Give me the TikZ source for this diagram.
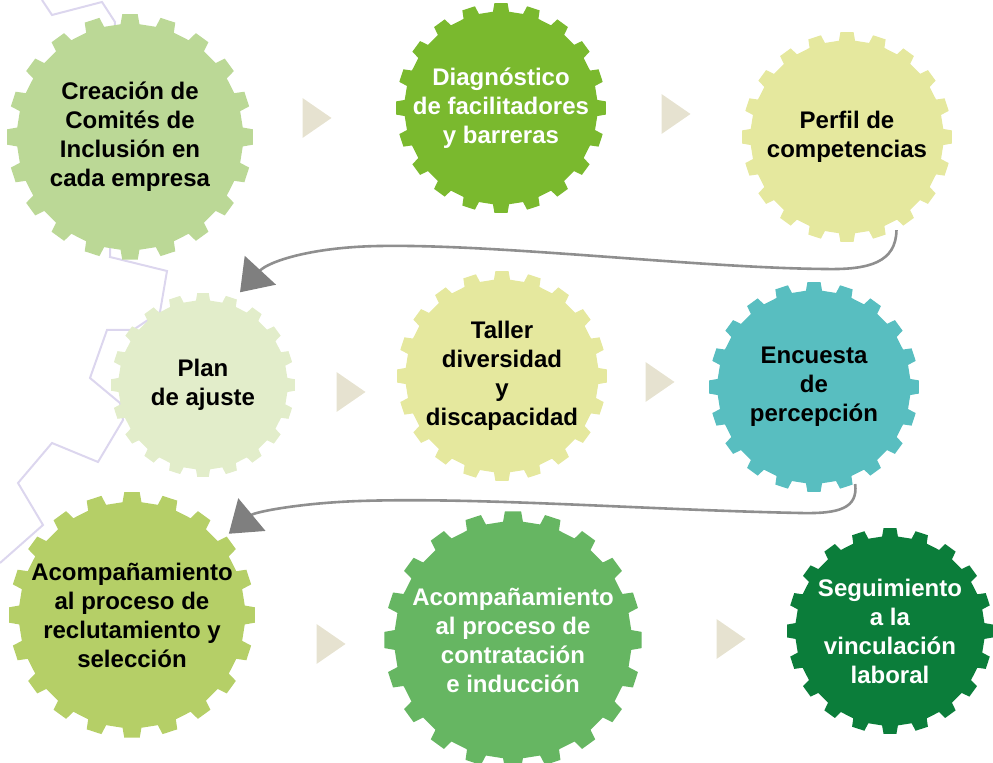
\documentclass[tikz,border=0pt]{standalone}
\usepackage{fontspec}
\setmainfont{Liberation Sans}
\usetikzlibrary{arrows.meta}

\definecolor{lightleaf}{HTML}{BBD896}
\definecolor{leaf}{HTML}{7AB92E}
\definecolor{straw}{HTML}{E5E89E}
\definecolor{paleleaf}{HTML}{E2EDCA}
\definecolor{teal}{HTML}{58BEC0}
\definecolor{olive}{HTML}{B5CF67}
\definecolor{grass}{HTML}{66B662}
\definecolor{forest}{HTML}{0B7D3A}
\definecolor{sand}{HTML}{E6E2D0}
\definecolor{lavender}{HTML}{DCD6EE}
\definecolor{linkgray}{HTML}{8F8F8F}
\definecolor{tipgray}{HTML}{7F7F7F}

\tikzset{
  geartext/.style={circle,inner sep=0pt,align=center,
    font=\fontsize{12}{14.5}\selectfont\bfseries},
  pointer/.style={fill=sand},
  link/.style={draw=linkgray,line width=1.3pt,
    -{Triangle[length=15pt,width=21pt,color=tipgray]}},
}

% name, centre, outer radius, fill, text colour, text
\newcommand{\gearnode}[6]{%
  \begin{scope}[shift={(#2)}]
    \fill[#4] (-4.8:0.92*#3) \foreach \a in {0,18,...,342}{
      -- (\a-4.8:0.92*#3) -- (\a-3.6:#3) -- (\a+3.6:#3) -- (\a+4.8:0.92*#3)} -- cycle;
  \end{scope}
  \node[geartext,text=#5,minimum size=#3pt] (#1) at (#2) {#6};
}

% small step triangle pointing right
\newcommand{\steptri}[1]{%
  \fill[pointer] (#1) ++(-14.5,-20) -- ++(29,20) -- ++(-29,20) -- cycle;
}

\begin{document}
\begin{tikzpicture}[x=0.5pt,y=-0.5pt]
    \useasboundingbox (0,0) rectangle (993,763);
    \clip (0,0) rectangle (993,763);

    \draw[lavender,line width=1pt] (42,0) -- (52,15) -- (102,2) -- (115,22)
        -- (110,257) -- (167,271) -- (160,312) -- (133,330) -- (107,330)
        -- (90,378) -- (120,403) -- (123,420) -- (98,462) -- (52,443)
        -- (18,483) -- (43,525) -- (0,563);

    \gearnode{creacion}{130,137}{123}{lightleaf}{black}{Creación de\\Comités de\\Inclusión en\\cada empresa}
    \gearnode{diagnostico}{501,108}{105}{leaf}{white}{Diagnóstico\\de facilitadores\\y barreras}
    \gearnode{perfil}{847,137}{105}{straw}{black}{Perfil de\\competencias}
    \gearnode{plan}{203,385}{92}{paleleaf}{black}{Plan\\de ajuste}
    \gearnode{taller}{502,376}{105}{straw}{black}{Taller\\diversidad\\y\\discapacidad}
    \gearnode{encuesta}{814,387}{105}{teal}{black}{Encuesta\\de\\percepción}
    \gearnode{reclutamiento}{132,615}{123}{olive}{black}{Acompañamiento\\al proceso de\\reclutamiento y\\selección}
    \gearnode{contratacion}{513,640}{129}{grass}{white}{Acompañamiento\\al proceso de\\contratación\\e inducción}
    \gearnode{seguimiento}{890,631}{103}{forest}{white}{Seguimiento\\a la\\vinculación\\laboral}

    \steptri{317,118}
    \steptri{676,114}
    \steptri{351,392}
    \steptri{660,382}
    \steptri{331,644}
    \steptri{731,639}

    \draw[link,shorten >=4pt] (perfil.-62) .. controls (896,262) and (870,270) .. (825,269)
        .. controls (700,268) and (500,244) .. (380,246)
        .. controls (310,247) and (268,262) .. (plan.70);
    \draw[link,shorten >=1.5pt] (encuesta.-67) .. controls (858,508) and (840,514) .. (800,513)
        .. controls (650,510) and (480,497) .. (360,501)
        .. controls (300,503) and (255,512) .. (reclutamiento.40);
\end{tikzpicture}
\end{document}
